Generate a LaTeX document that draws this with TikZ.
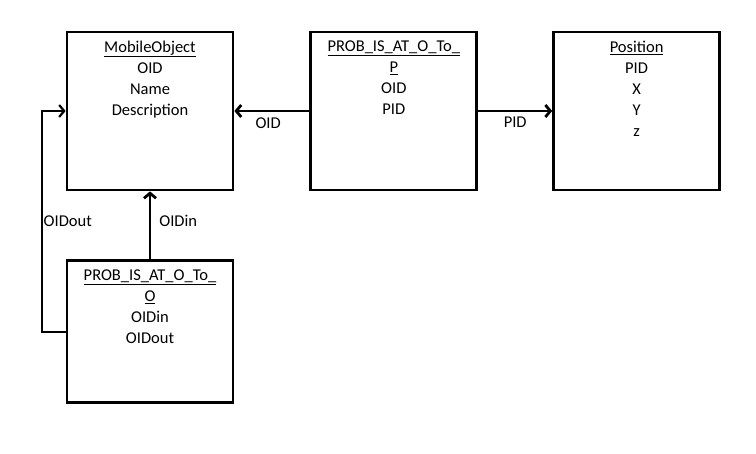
\documentclass[tikz,border=0pt]{standalone}
\usepackage{fontspec}
\setmainfont{Carlito}
\usetikzlibrary{arrows.meta, positioning}

\newcommand{\fields}[2]{\parbox[c][#1][t]{156pt}{\centering\vspace*{5pt}#2}}

\tikzset{
	entity/.style = {draw, line width=2.8pt, minimum width=166pt, inner sep=4pt},
	link/.style = {line width=2.8pt, -{Straight Barb[length=5pt, width=12pt]}},
	every node/.style = {font=\fontsize{16.5}{21}\selectfont}
}

\begin{document}
\begin{tikzpicture}[x=1pt, y=-1pt]
	\useasboundingbox (0,0) rectangle (756,454);
	\node (mobile) [entity] at (150,111)
	{\fields{150pt}{\underline{MobileObject}\\ OID\\ Name\\ Description}};
	\node (probp) [entity, right = 75pt of mobile]
	{\fields{150pt}{\underline{PROB\_IS\_AT\_O\_To\_}\\ \underline{P}\\ OID\\ PID}};
	\node (position) [entity, right = 74pt of probp]
	{\fields{150pt}{\underline{Position}\\ PID\\ X\\ Y\\ z}};
	\node (probo) [entity, below = 68pt of mobile]
	{\fields{134pt}{\underline{PROB\_IS\_AT\_O\_To\_}\\ \underline{O}\\ OIDin\\ OIDout}};
	\path [link]
	(probp) edge node[below, pos=0.55, inner sep=5pt] {OID} (mobile)
	(probp) edge node[below, inner sep=5pt] {PID} (position)
	(probo) edge node[right, pos=0.57, inner sep=8pt] {OIDin} (mobile);
	\draw [link, line width=2.2pt] (probo.west) -- ++(-24,0)
	|- node[right, pos=0.25, inner sep=1pt] {OIDout} (mobile.west);
\end{tikzpicture}
\end{document}
